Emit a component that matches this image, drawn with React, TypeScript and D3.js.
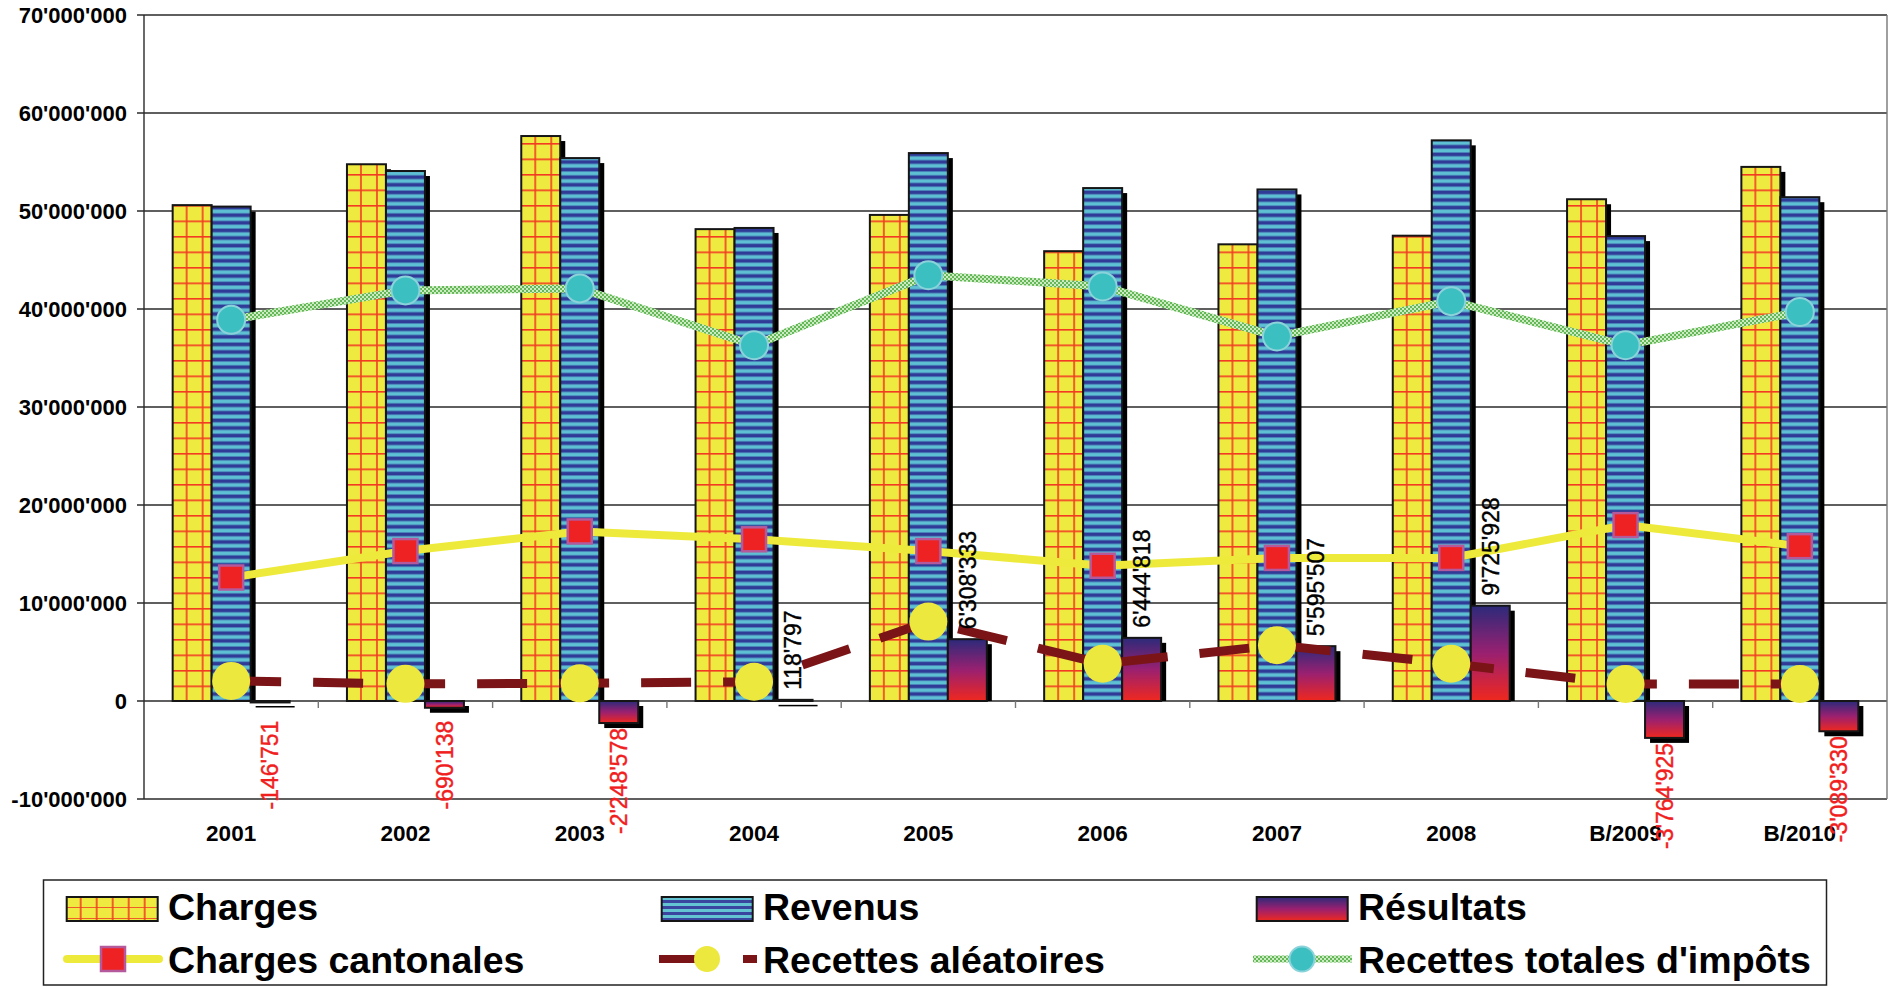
import React from 'react';
import * as d3 from 'd3';

// catégories et valeurs (CHF)
const categories = ['2001', '2002', '2003', '2004', '2005', '2006', '2007', '2008', 'B/2009', 'B/2010'];
const charges = [50600000, 54770000, 57650000, 48150000, 49600000, 45900000, 46600000, 47480000, 51200000, 54500000];
const revenus = [50450000, 54080000, 55400000, 48270000, 55910000, 52340000, 52200000, 57210000, 47440000, 51410000];
const resultats = [-146751, -690138, -2248578, 118797, 6308333, 6444818, 5595507, 9725928, -3764925, -3089330];
const chargesCantonales = [12600000, 15300000, 17300000, 16500000, 15300000, 13800000, 14600000, 14600000, 17950000, 15800000];
const recettesAleatoires = [2050000, 1750000, 1800000, 1970000, 8100000, 3800000, 5700000, 3800000, 1730000, 1730000];
const recettesTotales = [38900000, 41900000, 42100000, 36300000, 43450000, 42300000, 37200000, 40800000, 36300000, 39700000];
const yTicks = [-10000000, 0, 10000000, 20000000, 30000000, 40000000, 50000000, 60000000, 70000000];
const barSeries = ['Charges', 'Revenus', 'Résultats'];

const W = 1895;
const H = 987;
const plot = { left: 144, right: 1887, top: 15, bottom: 799 };
const FONT = '"Liberation Sans", Arial, sans-serif';

const fmt = (v: number) => d3.format(',')(v).replace(/,/g, "'").replace('−', '-');

const App = () => {
  const x = d3.scaleBand().domain(categories).range([plot.left, plot.right]).padding(0);
  const xSub = d3.scaleBand().domain(barSeries).range([0, x.bandwidth()]).paddingInner(0).paddingOuter(0.735);
  const y = d3.scaleLinear().domain([-10000000, 70000000]).range([plot.bottom, plot.top]);
  const y0 = y(0);
  const bw = xSub.bandwidth();
  const cx = (c: string) => x(c)! + x.bandwidth() / 2;
  const barX = (c: string, s: string) => x(c)! + xSub(s)!;

  const line = d3
    .line<number>()
    .x((_, i) => cx(categories[i]))
    .y((d) => y(d));

  const bars: { s: string; vals: number[]; fill: (i: number) => string }[] = [
    { s: 'Charges', vals: charges, fill: (i) => `url(#chg${i})` },
    { s: 'Revenus', vals: revenus, fill: () => 'url(#rev)' },
    { s: 'Résultats', vals: resultats, fill: () => 'url(#resGrad)' },
  ];

  // barre + ombre portée
  const drawBar = (s: string, v: number, i: number, fill: string) => {
    const c = categories[i];
    const bx = barX(c, s);
    const top = Math.min(y(v), y0);
    const h = Math.abs(y(v) - y0);
    const shadow =
      v >= 0 && h > 5
        ? { x: bx + 5, y: top + 5, h: h - 5 }
        : { x: bx + 5, y: top + 5, h: Math.max(h, 1.5) };
    return (
      <g key={`${s}-${i}`}>
        <rect x={shadow.x} y={shadow.y} width={bw} height={shadow.h} fill="#000" />
        <rect x={bx} y={top} width={bw} height={Math.max(h, 1)} fill={fill} stroke="#151515" strokeWidth={2} />
      </g>
    );
  };

  const legendCols = [66.7, 661.7, 1256.7];
  const legendText = [168, 763, 1358];
  const row1 = 920;
  const row2 = 973;
  const lineY = 959;

  return (
    <svg width={W} height={H} style={{ position: 'absolute', left: 0, top: 0, background: '#fff' }} fontFamily={FONT}>
      <defs>
        {categories.map((c, i) => (
          <pattern
            key={c}
            id={`chg${i}`}
            patternUnits="userSpaceOnUse"
            x={barX(c, 'Charges')}
            y={y0}
            width={16}
            height={15.5}
          >
            <rect width={16} height={15.5} fill="#eeea40" />
            <line x1={14} x2={14} y1={0} y2={15.5} stroke="#f23a22" strokeWidth={1.6} />
            <line x1={0} x2={16} y1={0.8} y2={0.8} stroke="#f23a22" strokeWidth={1.6} />
          </pattern>
        ))}
        <pattern id="chgLeg" patternUnits="userSpaceOnUse" x={66.7} y={897} width={16} height={11}>
          <rect width={16} height={11} fill="#eeea40" />
          <line x1={14} x2={14} y1={0} y2={11} stroke="#f23a22" strokeWidth={1.6} />
          <line x1={0} x2={16} y1={11} y2={11} stroke="#f23a22" strokeWidth={1.6} />
        </pattern>
        <pattern id="rev" patternUnits="userSpaceOnUse" width={8} height={7.6}>
          <rect width={8} height={7.6} fill="#5ec1d3" />
          <rect y={0.2} width={8} height={0.6} fill="#4678b8" />
          <rect y={0.8} width={8} height={3.4} fill="#2f3b96" />
          <rect y={4.2} width={8} height={0.6} fill="#4678b8" />
        </pattern>
        <pattern id="revLeg" patternUnits="userSpaceOnUse" y={897} width={8} height={6}>
          <rect width={8} height={6} fill="#63c3d3" />
          <rect y={3} width={8} height={3} fill="#3a45a0" />
        </pattern>
        <linearGradient id="resGrad" x1="0" y1="0" x2="0" y2="1">
          <stop offset="0%" stopColor="#2c2a7a" />
          <stop offset="50%" stopColor="#9a2070" />
          <stop offset="100%" stopColor="#f0281e" />
        </linearGradient>
        <pattern id="checker" patternUnits="userSpaceOnUse" width={4} height={4}>
          <rect width={4} height={4} fill="#cdeac4" />
          <rect width={2} height={2} fill="#62b955" />
          <rect x={2} y={2} width={2} height={2} fill="#62b955" />
        </pattern>
      </defs>

      {/* grille */}
      {yTicks.map((t) => (
        <g key={t}>
          <line x1={plot.left - 7} x2={plot.right} y1={y(t)} y2={y(t)} stroke="#2a2a2a" strokeWidth={1.4} />
          <text x={127} y={y(t)} dy="0.36em" textAnchor="end" fontSize={22} fontWeight="bold">
            {fmt(t)}
          </text>
        </g>
      ))}
      <line x1={plot.left} x2={plot.left} y1={plot.top} y2={plot.bottom} stroke="#2a2a2a" strokeWidth={1.4} />
      <line x1={plot.right} x2={plot.right} y1={plot.top} y2={plot.bottom} stroke="#777" strokeWidth={1.4} />
      {categories.slice(1).map((c) => (
        <line key={c} x1={x(c)} x2={x(c)} y1={y0} y2={y0 + 7} stroke="#777" strokeWidth={1.4} />
      ))}
      {categories.map((c) => (
        <text key={c} x={cx(c)} y={841} textAnchor="middle" fontSize={22.5} fontWeight="bold">
          {c}
        </text>
      ))}

      {/* barres */}
      {bars.map((b) => b.vals.map((v, i) => drawBar(b.s, v, i, b.fill(i))))}

      {/* Recettes totales d'impôts */}
      <path d={line(recettesTotales)!} fill="none" stroke="url(#checker)" strokeWidth={8} />
      {recettesTotales.map((v, i) => (
        <circle key={i} cx={cx(categories[i])} cy={y(v)} r={14} fill="#3cbfc0" stroke="#8ad3da" strokeWidth={2} />
      ))}

      {/* Charges cantonales */}
      <path d={line(chargesCantonales)!} fill="none" stroke="#eeea3c" strokeWidth={8} />
      {chargesCantonales.map((v, i) => (
        <rect
          key={i}
          x={cx(categories[i]) - 12}
          y={y(v) - 12}
          width={24}
          height={24}
          fill="#ee2222"
          stroke="#b45a9c"
          strokeWidth={2.5}
        />
      ))}

      {/* Recettes aléatoires */}
      <path d={line(recettesAleatoires)!} fill="none" stroke="#7b1416" strokeWidth={9} strokeDasharray="50 32" />
      {recettesAleatoires.map((v, i) => (
        <circle key={i} cx={cx(categories[i])} cy={y(v)} r={19} fill="#ece83e" />
      ))}

      {/* étiquettes des résultats */}
      {resultats.map((v, i) => {
        const lx = barX(categories[i], 'Résultats') + bw / 2;
        const ly = v >= 0 ? y(v) - 10 : Math.max(y(v) + 5, y(-2000000));
        return (
          <text
            key={i}
            transform={`translate(${lx},${ly}) rotate(-90)`}
            dy="0.36em"
            textAnchor={v >= 0 ? 'start' : 'end'}
            fontSize={23}
            fill={v >= 0 ? '#000' : '#f0201e'}
            stroke={v >= 0 ? '#000' : '#f0201e'}
            strokeWidth={0.4}
          >
            {fmt(v)}
          </text>
        );
      })}

      {/* légende */}
      <rect x={43.5} y={880} width={1783} height={105} fill="none" stroke="#222" strokeWidth={1.5} />
      <rect x={legendCols[0]} y={897} width={91} height={24} fill="url(#chgLeg)" stroke="#151515" strokeWidth={2} />
      <rect x={legendCols[1]} y={897} width={91} height={24} fill="url(#revLeg)" stroke="#151515" strokeWidth={2} />
      <rect x={legendCols[2]} y={897} width={91} height={24} fill="url(#resGrad)" stroke="#151515" strokeWidth={2} />
      {['Charges', 'Revenus', 'Résultats'].map((t, i) => (
        <text key={t} x={legendText[i]} y={row1} fontSize={37.5} fontWeight="bold">
          {t}
        </text>
      ))}
      <line x1={67} x2={159} y1={lineY} y2={lineY} stroke="#eeea3c" strokeWidth={8} strokeLinecap="round" />
      <rect x={101} y={947} width={24} height={24} fill="#ee2222" stroke="#b45a9c" strokeWidth={2.5} />
      <line x1={659} x2={697} y1={lineY} y2={lineY} stroke="#7b1416" strokeWidth={8} />
      <line x1={743} x2={757} y1={lineY} y2={lineY} stroke="#7b1416" strokeWidth={8} />
      <circle cx={707} cy={lineY} r={13} fill="#ece83e" />
      <line x1={1253} x2={1352} y1={lineY} y2={lineY} stroke="url(#checker)" strokeWidth={7} />
      <circle cx={1302} cy={lineY} r={12.5} fill="#3cbfc0" stroke="#8ad3da" strokeWidth={2} />
      {['Charges cantonales', 'Recettes aléatoires', "Recettes totales d'impôts"].map((t, i) => (
        <text key={t} x={legendText[i]} y={row2} fontSize={37.5} fontWeight="bold">
          {t}
        </text>
      ))}
    </svg>
  );
};

export default App;
